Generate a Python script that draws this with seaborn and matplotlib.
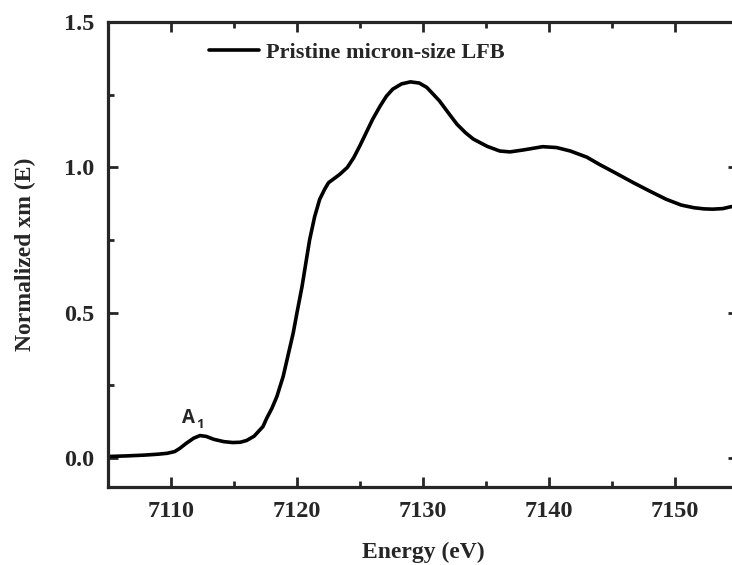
import matplotlib
matplotlib.use("Agg")
import matplotlib.pyplot as plt
import seaborn as sns
import pandas as pd
from matplotlib.ticker import MultipleLocator

# Fe K-edge XANES spectrum, pristine micron-size LFB
energy = [7105.0, 7106.5, 7108.0, 7109.0, 7109.7, 7110.3, 7110.7, 7111.2, 7111.8,
          7112.3, 7112.8, 7113.4, 7114.2, 7114.9, 7115.5, 7116.0, 7116.6, 7117.3,
          7117.6, 7118.0, 7118.4, 7118.9, 7119.3, 7119.7, 7120.0, 7120.4, 7121.0,
          7121.4, 7121.8, 7122.2, 7122.5, 7123.0, 7123.4, 7124.0, 7124.5, 7125.0,
          7125.5, 7126.0, 7126.6, 7127.1, 7127.6, 7128.3, 7129.0, 7129.7, 7130.3,
          7131.3, 7132.0, 7132.7, 7133.4, 7134.0, 7135.1, 7136.1, 7136.9, 7138.0,
          7139.5, 7140.6, 7141.7, 7143.0, 7144.0, 7145.3, 7146.7, 7148.0, 7149.3,
          7150.5, 7151.5, 7152.3, 7153.0, 7153.8, 7154.5]
absorbance = [0.005, 0.007, 0.010, 0.013, 0.016, 0.022, 0.033, 0.050, 0.068,
              0.077, 0.074, 0.064, 0.056, 0.053, 0.054, 0.060, 0.075, 0.108,
              0.137, 0.170, 0.211, 0.280, 0.355, 0.430, 0.500, 0.590, 0.750,
              0.830, 0.890, 0.925, 0.947, 0.963, 0.976, 1.000, 1.033, 1.075,
              1.120, 1.165, 1.211, 1.245, 1.269, 1.287, 1.294, 1.290, 1.275,
              1.229, 1.188, 1.148, 1.118, 1.097, 1.072, 1.056, 1.053, 1.060,
              1.071, 1.068, 1.056, 1.035, 1.010, 0.980, 0.947, 0.918, 0.890,
              0.870, 0.861, 0.857, 0.856, 0.858, 0.865]

x_ticks = [7110, 7120, 7130, 7140, 7150]
y_ticks = [0.0, 0.5, 1.0, 1.5]
series_label = "Pristine micron-size LFB"

df = pd.DataFrame({"Energy (eV)": energy, "Normalized xm (E)": absorbance})

sns.set_style("ticks")
plt.rcParams["font.family"] = ["Liberation Serif", "DejaVu Serif"]
plt.rcParams["font.weight"] = "bold"

fig = plt.figure(figsize=(7.32, 5.65), dpi=100)
ax = fig.add_axes([108 / 732, 78 / 565, 630 / 732, 465 / 565])

sns.lineplot(data=df, x="Energy (eV)", y="Normalized xm (E)", ax=ax,
             color="black", linewidth=2.6, label=series_label)

ax.set_xlim(7105, 7155)
ax.set_ylim(-0.1, 1.5)
ax.set_xticks(x_ticks)
ax.set_yticks(y_ticks)
ax.set_yticklabels([f"{v:.1f}" for v in y_ticks])
ax.xaxis.set_minor_locator(MultipleLocator(5))
ax.yaxis.set_minor_locator(MultipleLocator(0.25))
ax.tick_params(which="both", direction="in", top=True, right=True,
               width=2.0, labelsize=17.5, pad=10)
ax.tick_params(which="major", length=7)
ax.tick_params(which="minor", length=4)
for lab in ax.get_xticklabels() + ax.get_yticklabels():
    lab.set_fontweight("bold")
for sp in ax.spines.values():
    sp.set_linewidth(2.3)
    sp.set_visible(True)

ax.set_xlabel("Energy (eV)", fontsize=17, fontweight="bold", labelpad=14)
ax.set_ylabel("Normalized xm (E)", fontsize=17, fontweight="bold", labelpad=20)

leg = ax.legend(loc="upper left", bbox_to_anchor=(0.129, 1.0), frameon=False,
                handlelength=2.25, handletextpad=0.3,
                prop={"family": "Liberation Serif", "weight": "bold", "size": 16})

ax.text(7110.9, 0.12, "A", fontsize=13.5, fontweight="bold",
        family=["Open Sans", "DejaVu Sans"], va="baseline", ha="left")
ax.text(7112.0, 0.102, "1", fontsize=9.5, fontweight="bold",
        family=["Open Sans", "DejaVu Sans"], va="baseline", ha="left")

fig.savefig("out.png", dpi=100)
